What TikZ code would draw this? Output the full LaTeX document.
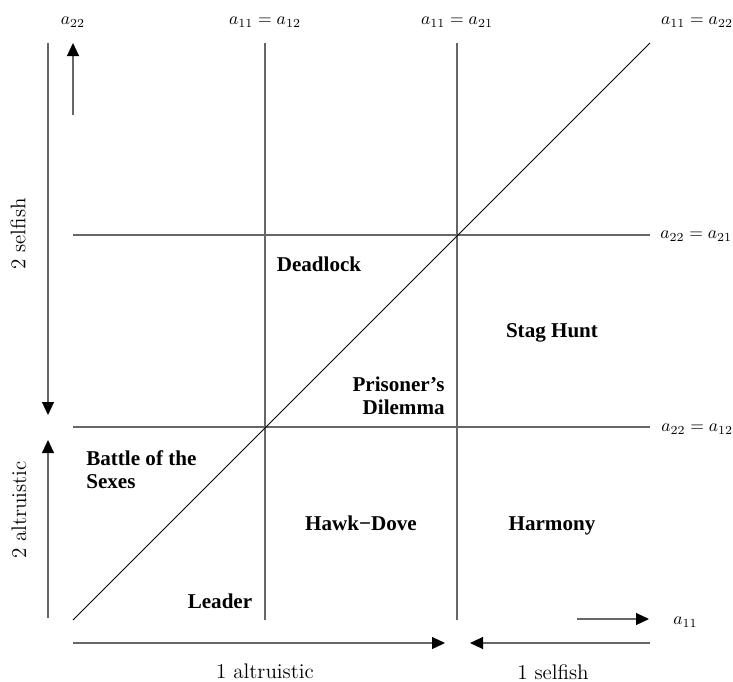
\documentclass[tikz,border=0pt]{standalone}
\usepackage{fontspec}
\newfontfamily\gamefont{Liberation Serif}
\usepackage{tikz}
\usetikzlibrary{arrows.meta,positioning}
\definecolor{linegray}{gray}{0.4}

\begin{document}
\begin{tikzpicture}[
    x=0.02cm, y=-0.02cm,
    game/.style={font=\gamefont\bfseries\fontsize{12}{13}\selectfont, inner sep=0pt},
    eq/.style={inner sep=0pt},
    side/.style={font=\large, inner sep=0pt},
    border/.style={draw=linegray, line width=0.7pt},
    arrow/.style={draw=linegray, line width=0.7pt, -{Triangle[length=7.4pt,width=6.8pt,color=black]}}
]
\useasboundingbox (0,0) rectangle (733,681);

% Grid corners
\coordinate (o) at (73,620);
\coordinate (tr) at (650,43);
\coordinate (v1t) at (265,43);
\coordinate (v1b) at (265,620);
\coordinate (v2t) at (457,43);
\coordinate (v2b) at (457,620);
\coordinate (h1l) at (73,235);
\coordinate (h1r) at (650,235);
\coordinate (h2l) at (73,427);
\coordinate (h2r) at (650,427);

% Grid lines
\draw[border] (v1t) -- (v1b);
\draw[border] (v2t) -- (v2b);
\draw[border] (h1l) -- (h1r);
\draw[border] (h2l) -- (h2r);
\draw[line width=0.5pt] (o) -- (tr);

% Boundary labels
\node[eq] (l22) at (73,22) {$a_{22}$};
\node[eq] (l1112) at (265,22) {$a_{11}=a_{12}$};
\node[eq] (l1121) at (457,22) {$a_{11}=a_{21}$};
\node[eq] (l1122) at (697,22) {$a_{11}=a_{22}$};
\node[eq, anchor=west] (l2221) at (660,236) {$a_{22}=a_{21}$};
\node[eq, anchor=west] (l2212) at (661,429) {$a_{22}=a_{12}$};
\node[eq, anchor=west] (l11) at (673,622) {$a_{11}$};

% Axis arrows
\coordinate (up0) at (73,115);
\coordinate (up1) at (73,43);
\coordinate (rt0) at (577,619);
\coordinate (rt1) at (649,619);
\coordinate (sf0) at (48,43);
\coordinate (sf1) at (48,415);
\coordinate (al0) at (48,618);
\coordinate (al1) at (48,440);
\coordinate (ba0) at (73,643);
\coordinate (ba1) at (445,643);
\coordinate (bs0) at (650,643);
\coordinate (bs1) at (470,643);

\draw[arrow] (up0) -- (up1);
\draw[arrow] (rt0) -- (rt1);
\draw[arrow] (sf0) -- (sf1);
\draw[arrow] (al0) -- (al1);
\draw[arrow] (ba0) -- (ba1);
\draw[arrow] (bs0) -- (bs1);

% Player labels
\node[side, rotate=90] (selfish2) at (18,234) {2 selfish};
\node[side, rotate=90] (altruistic2) at (19,510) {2 altruistic};
\node[side] (altruistic1) at (265,671) {1 altruistic};
\node[side] (selfish1) at (553,672) {1 selfish};

% Games
\node[game, anchor=base] (deadlock) at (319,271) {Deadlock};
\node[game, anchor=base] (stag) at (552,337) {Stag Hunt};
\node[game, align=right, anchor=north east] (pd) at (445,377) {Prisoner’s\\Dilemma};
\node[game, align=left, anchor=north west] (bos) at (86,450) {Battle of the\\Sexes};
\node[game, anchor=base] (hawk) at (361,530) {Hawk−Dove};
\node[game, anchor=base] (harmony) at (552,530) {Harmony};
\node[game, anchor=base] (leader) at (220,608) {Leader};

\end{tikzpicture}
\end{document}
